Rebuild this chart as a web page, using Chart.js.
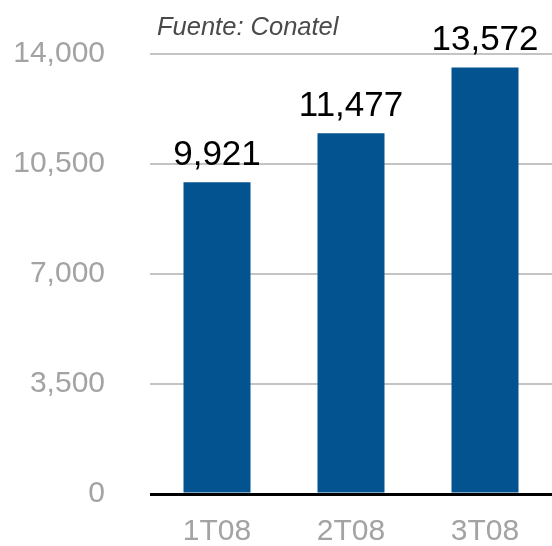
<!DOCTYPE html>
<html>
<head>
<meta charset="utf-8">
<script src="https://cdn.jsdelivr.net/npm/chart.js@4/dist/chart.umd.min.js"></script>
<style>
html,body{margin:0;padding:0;background:#fff;}
canvas{display:block;}
</style>
</head>
<body>
<canvas id="c" width="552" height="546"></canvas>
<script>
const categories = ["1T08", "2T08", "3T08"];
const values = [9921, 11477, 13572];
const yTicks = [0, 3500, 7000, 10500, 14000];
const sourceText = "Fuente: Conatel";

const FONT = '"Liberation Sans", Arial, Helvetica, sans-serif';

const labelPlugin = {
  id: 'labels',
  afterDatasetsDraw(chart) {
    const ctx = chart.ctx;
    const meta = chart.getDatasetMeta(0);
    ctx.save();
    ctx.fillStyle = '#000';
    ctx.font = '35px ' + FONT;
    ctx.textAlign = 'center';
    ctx.textBaseline = 'alphabetic';
    meta.data.forEach((bar, i) => {
      ctx.fillText(values[i].toLocaleString('en-US'), bar.x, bar.y - 17);
    });
    const ca = chart.chartArea;
    ctx.fillStyle = '#4a4a4a';
    ctx.font = 'italic 25.5px ' + FONT;
    ctx.textAlign = 'left';
    ctx.fillText(sourceText, ca.left + 7, ca.top - 19);
    ctx.restore();
  }
};

new Chart(document.getElementById('c'), {
  type: 'bar',
  data: {
    labels: categories,
    datasets: [{
      data: values,
      backgroundColor: '#02538f',
      borderWidth: 0,
      barPercentage: 0.5,
      categoryPercentage: 1.0
    }]
  },
  options: {
    responsive: false,
    animation: false,
    devicePixelRatio: 1,
    layout: { padding: { top: 54, right: 0, left: 0, bottom: 0 } },
    plugins: { legend: { display: false }, tooltip: { enabled: false } },
    scales: {
      x: {
        grid: { display: false },
        border: { display: false },
        ticks: {
          color: '#a3a3a3',
          font: { family: FONT, size: 30 },
          padding: 12
        },
        afterFit(scale) { scale.height = 52; scale.paddingLeft = 0; scale.paddingRight = 0; }
      },
      y: {
        min: 0,
        max: 14000,
        afterBuildTicks(scale) { scale.ticks = yTicks.map(v => ({ value: v })); },
        grid: {
          color: ctx => ctx.tick && ctx.tick.value === 0 ? '#000' : '#c4c4c4',
          lineWidth: ctx => ctx.tick && ctx.tick.value === 0 ? 3 : 2,
          drawTicks: false
        },
        border: { display: false },
        ticks: {
          color: '#a3a3a3',
          font: { family: FONT, size: 30 },
          padding: 45,
          callback: v => Number(v).toLocaleString('en-US')
        },
        afterFit(scale) { scale.width = 150; scale.paddingTop = 0; scale.paddingBottom = 0; }
      }
    }
  },
  plugins: [labelPlugin]
});
</script>
</body>
</html>
